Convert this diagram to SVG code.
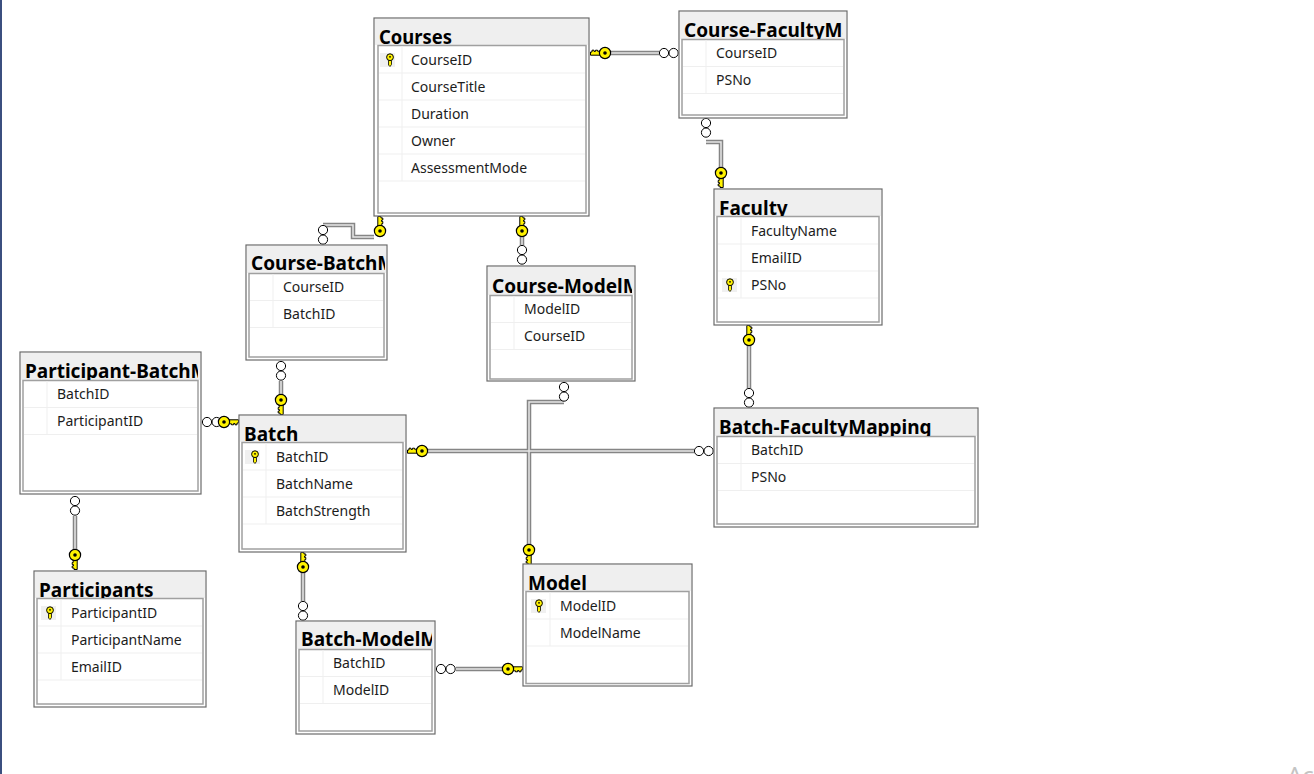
<svg xmlns="http://www.w3.org/2000/svg" xmlns:xlink="http://www.w3.org/1999/xlink" width="1314" height="774" viewBox="0 0 1314 774">
<style>
.o{fill:#fff;stroke:#6b6b6b;stroke-width:1.200}
.h{fill:#efefef}
.i{fill:#fff;stroke:#a0a0a0;stroke-width:1.500}
.r{stroke:#efefef;stroke-width:1;fill:none}
.t{font:bold 19px "Noto Sans","Open Sans",sans-serif;fill:#000}
.f{font:14px "Noto Sans","Open Sans",sans-serif;fill:#1c1c1c}
.ko{fill:none;stroke:#858585;stroke-width:4.500}
.ki{fill:none;stroke:#e6e6e6;stroke-width:1.500}
.c{fill:#fff;stroke:#000;stroke-width:1}
.kb{fill:#f0f0f0}
</style>
<defs>
<g id="key"><path d="M4 -2.200H14.500V1H13V2.800H11V1.600H9.500V2.800H7.500V1.800H4Z" fill="#fff200" stroke="#000" stroke-width="1"/><circle r="5.600" fill="#fff200" stroke="#000" stroke-width="1.200"/><circle r="1.800" fill="#000"/></g>
<g id="pk"><path d="M-1.500 -1.500H1.500V4.500L0 6.500L-1.500 5Z" fill="#fff200" stroke="#000" stroke-width=".8"/><circle cy="-2.800" r="3.400" fill="#fff200" stroke="#000" stroke-width="1"/><circle cy="-3.200" r=".9" fill="#000"/></g>
<g id="cc"><circle r="4.600" class="c"/><circle cx="9.600" r="4.600" class="c"/></g>
<clipPath id="c1"><rect x="375" y="19" width="210" height="26"/></clipPath>
<clipPath id="c2"><rect x="680" y="12" width="163" height="27"/></clipPath>
<clipPath id="c3"><rect x="715" y="190" width="164" height="26"/></clipPath>
<clipPath id="c4"><rect x="247" y="246" width="138" height="27"/></clipPath>
<clipPath id="c5"><rect x="488" y="267" width="144" height="28"/></clipPath>
<clipPath id="c6"><rect x="21" y="353" width="177" height="27"/></clipPath>
<clipPath id="c7"><rect x="240" y="416" width="163" height="26"/></clipPath>
<clipPath id="c8"><rect x="715" y="409" width="260" height="27"/></clipPath>
<clipPath id="c9"><rect x="35" y="572" width="168" height="26"/></clipPath>
<clipPath id="c10"><rect x="297" y="622" width="135" height="27"/></clipPath>
<clipPath id="c11"><rect x="524" y="565" width="165" height="26"/></clipPath>
</defs>
<rect width="1314" height="774" fill="#fff"/>
<rect x="0" y="0" width="2" height="774" fill="#3b4f7f"/>
<g id="connectors">
<path class="ko" d="M610 53H659M706 142H721V168M323 225H353V237H374M522 237V245M281 381V395M564 402H529V545M428 451H694M749 345V388M75 516V550M303 572V601M456 669H502"/>
<path class="ki" d="M610 53H659M706 142H721V168M323 225H353V237H374M522 237V245M281 381V395M564 402H529V545M428 451H694M749 345V388M75 516V550M303 572V601M456 669H502"/>
<use xlink:href="#key" href="#key" transform="translate(605,53) rotate(180)"/>
<use xlink:href="#cc" href="#cc" transform="translate(664,53)"/>
<use xlink:href="#cc" href="#cc" transform="translate(706,123) rotate(90)"/>
<use xlink:href="#key" href="#key" transform="translate(721,173) rotate(90)"/>
<use xlink:href="#key" href="#key" transform="translate(380,231) rotate(-90)"/>
<use xlink:href="#cc" href="#cc" transform="translate(323,230) rotate(90)"/>
<use xlink:href="#key" href="#key" transform="translate(522,231) rotate(-90)"/>
<use xlink:href="#cc" href="#cc" transform="translate(522,250) rotate(90)"/>
<use xlink:href="#cc" href="#cc" transform="translate(281,366) rotate(90)"/>
<use xlink:href="#key" href="#key" transform="translate(281,400) rotate(90)"/>
<use xlink:href="#cc" href="#cc" transform="translate(207,422)"/>
<use xlink:href="#key" href="#key" transform="translate(224,422)"/>
<use xlink:href="#key" href="#key" transform="translate(422,451) rotate(180)"/>
<use xlink:href="#cc" href="#cc" transform="translate(699,451)"/>
<use xlink:href="#key" href="#key" transform="translate(749,340) rotate(-90)"/>
<use xlink:href="#cc" href="#cc" transform="translate(749,393) rotate(90)"/>
<use xlink:href="#cc" href="#cc" transform="translate(564,387) rotate(90)"/>
<use xlink:href="#key" href="#key" transform="translate(529,550) rotate(90)"/>
<use xlink:href="#cc" href="#cc" transform="translate(75,501) rotate(90)"/>
<use xlink:href="#key" href="#key" transform="translate(75,555) rotate(90)"/>
<use xlink:href="#key" href="#key" transform="translate(303,567) rotate(-90)"/>
<use xlink:href="#cc" href="#cc" transform="translate(303,606) rotate(90)"/>
<use xlink:href="#cc" href="#cc" transform="translate(441,669)"/>
<use xlink:href="#key" href="#key" transform="translate(508,669)"/>
</g>
<g id="courses">
<rect class="o" x="374" y="18" width="215" height="198"/><rect class="h" x="375" y="19" width="213" height="26"/><rect class="i" x="378" y="45.500" width="208" height="167.500"/>
<path class="r" d="M379 73H585M379 100H585M379 127H585M379 154H585M379 181H585M402 46V181"/>
<text class="t" clip-path="url(#c1)" x="379" y="44" textLength="73" lengthAdjust="spacingAndGlyphs">Courses</text>
<rect class="kb" x="380" y="53" width="15" height="14"/><use xlink:href="#pk" href="#pk" transform="translate(390,60)"/>
<text class="f" x="411" y="65">CourseID</text><text class="f" x="411" y="92">CourseTitle</text><text class="f" x="411" y="119">Duration</text><text class="f" x="411" y="146">Owner</text><text class="f" x="411" y="173">AssessmentMode</text>
</g>
<g id="course-facultym">
<rect class="o" x="679" y="11" width="168" height="107"/><rect class="h" x="680" y="12" width="166" height="27"/><rect class="i" x="682" y="39.500" width="162" height="75.500"/>
<path class="r" d="M683 66.500H843M683 93.500H843M706 40V94"/>
<text class="t" clip-path="url(#c2)" x="684" y="37">Course-FacultyMapping</text>
<text class="f" x="716" y="58">CourseID</text><text class="f" x="716" y="85">PSNo</text>
</g>
<g id="faculty">
<rect class="o" x="714" y="189" width="168" height="136"/><rect class="h" x="715" y="190" width="166" height="26"/><rect class="i" x="717" y="216.500" width="162" height="105.500"/>
<path class="r" d="M718 244H878M718 271H878M718 298H878M741 217V298"/>
<text class="t" clip-path="url(#c3)" x="719" y="215">Faculty</text>
<text class="f" x="751" y="236">FacultyName</text><text class="f" x="751" y="263">EmailID</text><text class="f" x="751" y="290">PSNo</text>
<rect class="kb" x="722" y="278" width="15" height="14"/><use xlink:href="#pk" href="#pk" transform="translate(730,285)"/>
</g>
<g id="course-batchm">
<rect class="o" x="246" y="245" width="141" height="115"/><rect class="h" x="247" y="246" width="139" height="27"/><rect class="i" x="249" y="273.500" width="135" height="83.500"/>
<path class="r" d="M250 300.500H383M250 327.500H383M273 274V327"/>
<text class="t" clip-path="url(#c4)" x="251" y="270">Course-BatchMapping</text>
<text class="f" x="283" y="292">CourseID</text><text class="f" x="283" y="319">BatchID</text>
</g>
<g id="course-modelm">
<rect class="o" x="487" y="266" width="148" height="115"/><rect class="h" x="488" y="267" width="146" height="28"/><rect class="i" x="490" y="295.500" width="142" height="83.500"/>
<path class="r" d="M491 322.500H631M491 349.500H631M514 296V349"/>
<text class="t" clip-path="url(#c5)" x="492" y="293">Course-ModelMapping</text>
<text class="f" x="524" y="314">ModelID</text><text class="f" x="524" y="341">CourseID</text>
</g>
<g id="participant-batchm">
<rect class="o" x="20" y="352" width="181" height="142"/><rect class="h" x="21" y="353" width="179" height="27"/><rect class="i" x="23" y="380.500" width="175" height="110.500"/>
<path class="r" d="M24 407.500H197M24 434.500H197M47 381V434"/>
<text class="t" clip-path="url(#c6)" x="25" y="378">Participant-BatchMapping</text>
<text class="f" x="57" y="399">BatchID</text><text class="f" x="57" y="426">ParticipantID</text>
</g>
<g id="batch">
<rect class="o" x="239" y="415" width="167" height="137"/><rect class="h" x="240" y="416" width="165" height="26"/><rect class="i" x="242" y="442.500" width="161" height="106.500"/>
<path class="r" d="M243 470H402M243 497H402M243 524H402M266 443V524"/>
<text class="t" clip-path="url(#c7)" x="244" y="441">Batch</text>
<rect class="kb" x="245" y="450" width="15" height="14"/><use xlink:href="#pk" href="#pk" transform="translate(255,457)"/>
<text class="f" x="276" y="462">BatchID</text><text class="f" x="276" y="489">BatchName</text><text class="f" x="276" y="516">BatchStrength</text>
</g>
<g id="batch-facultymapping">
<rect class="o" x="714" y="408" width="264" height="119"/><rect class="h" x="715" y="409" width="262" height="27"/><rect class="i" x="717" y="436.500" width="258" height="87.500"/>
<path class="r" d="M718 463.500H974M718 490.500H974M741 437V490"/>
<text class="t" clip-path="url(#c8)" x="719" y="434">Batch-FacultyMapping</text>
<text class="f" x="751" y="455">BatchID</text><text class="f" x="751" y="482">PSNo</text>
</g>
<g id="participants">
<rect class="o" x="34" y="571" width="172" height="136"/><rect class="h" x="35" y="572" width="170" height="26"/><rect class="i" x="37" y="598.500" width="166" height="105.500"/>
<path class="r" d="M38 626H202M38 653H202M38 680H202M61 599V680"/>
<text class="t" clip-path="url(#c9)" x="39" y="597">Participants</text>
<rect class="kb" x="41" y="606" width="15" height="14"/><use xlink:href="#pk" href="#pk" transform="translate(50,613)"/>
<text class="f" x="71" y="618">ParticipantID</text><text class="f" x="71" y="645">ParticipantName</text><text class="f" x="71" y="672">EmailID</text>
</g>
<g id="batch-modelm">
<rect class="o" x="296" y="621" width="139" height="113"/><rect class="h" x="297" y="622" width="137" height="27"/><rect class="i" x="299" y="649.500" width="133" height="81.500"/>
<path class="r" d="M300 676.500H431M300 703.500H431M323 650V703"/>
<text class="t" clip-path="url(#c10)" x="301" y="646">Batch-ModelMapping</text>
<text class="f" x="333" y="668">BatchID</text><text class="f" x="333" y="695">ModelID</text>
</g>
<g id="model">
<rect class="o" x="523" y="564" width="169" height="122"/><rect class="h" x="524" y="565" width="167" height="26"/><rect class="i" x="526" y="591.500" width="163" height="92"/>
<path class="r" d="M527 619H688M527 646H688M550 592V646"/>
<text class="t" clip-path="url(#c11)" x="528" y="590">Model</text>
<rect class="kb" x="531" y="599" width="15" height="14"/><use xlink:href="#pk" href="#pk" transform="translate(539,606)"/>
<text class="f" x="560" y="611">ModelID</text><text class="f" x="560" y="638">ModelName</text>
</g>
<text x="1287" y="784" font-family="'Noto Sans',sans-serif" font-size="24" fill="#c4c4c4">Ac</text>
</svg>
